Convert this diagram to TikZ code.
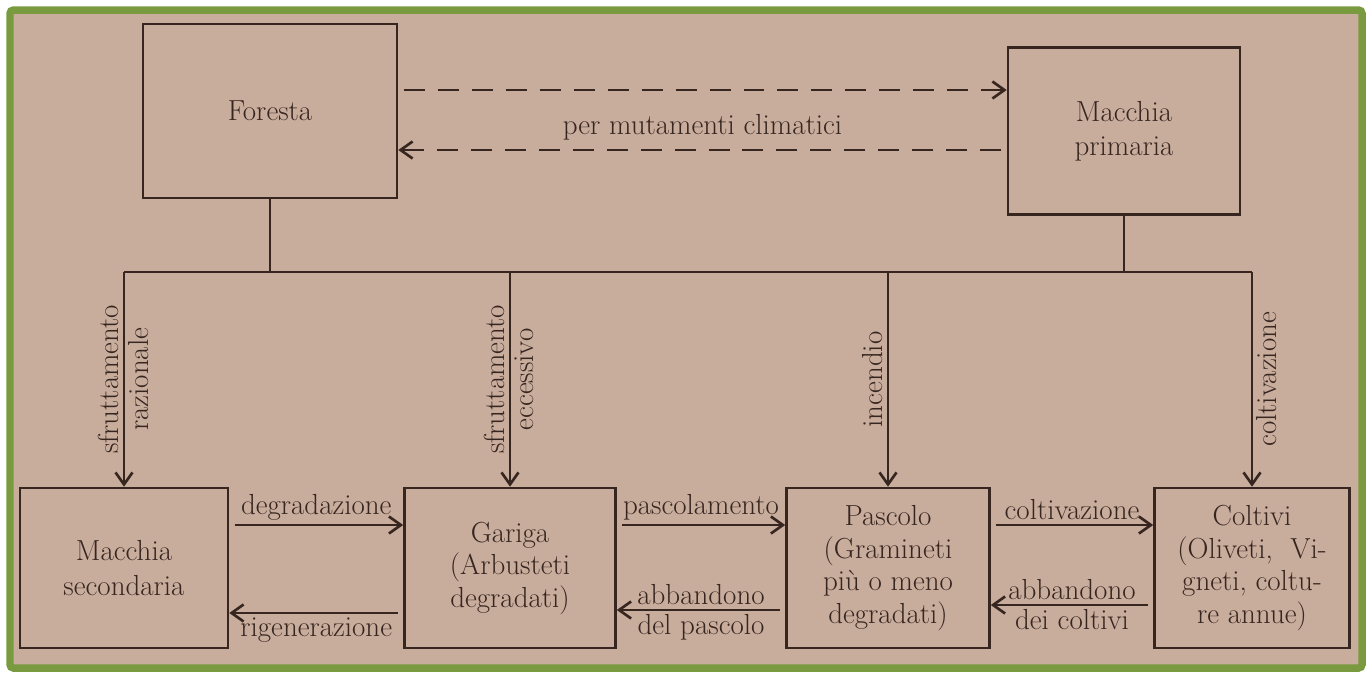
\documentclass[tikz,border=0pt]{standalone}
\usepackage{fontspec}
\usetikzlibrary{arrows.meta}
\definecolor{carta}{RGB}{200,172,156}
\definecolor{inchiostro}{RGB}{55,38,32}
\definecolor{cornice}{RGB}{122,154,63}
\tikzset{
  stadio/.style={draw=inchiostro, line width=1.5pt, align=center,
    minimum height=3.2cm, text=inchiostro, font=\fontsize{16.5}{18.5}\selectfont},
  linea/.style={draw=inchiostro, line width=1.5pt},
  freccia/.style={linea, shorten <=3pt, -{Straight Barb[length=2.4mm,width=3.4mm]}},
  tratteggio/.style={freccia, dash pattern=on 0.42cm off 0.26cm},
  etichetta/.style={text=inchiostro, font=\fontsize{16.5}{18}\selectfont, inner sep=2pt},
}
\begin{document}
\begin{tikzpicture}[x=0.02cm, y=-0.02cm]
\useasboundingbox (0,0) rectangle (1372,677);
\fill[white] (0,0) rectangle (1372,677);
\filldraw[fill=carta, draw=cornice, line width=0.15cm, rounded corners=2pt] (10,10) rectangle (1362,668);

% stadi
\node[stadio, minimum width=5.08cm, minimum height=3.48cm] (foresta) at (270,111) {Foresta};
\node[stadio, minimum width=4.64cm, minimum height=3.34cm, font=\fontsize{16.5}{19.5}\selectfont] (primaria) at (1124,131) {Macchia\\primaria};
\node[stadio, minimum width=4.16cm, font=\fontsize{16.5}{19.5}\selectfont] (secondaria) at (124,568) {Macchia\\secondaria};
\node[stadio, minimum width=4.22cm] (gariga) at (510,568) {Gariga\\(Arbusteti\\degradati)};
\node[stadio, minimum width=4.06cm] (pascolo) at (888,568) {Pascolo\\(Gramineti\\più o meno\\degradati)};
\node[stadio, minimum width=3.9cm] (coltivi) at (1252,568) {Coltivi\\(Oliveti,\ \ Vi-\\gneti, coltu-\\re annue)};

% mutamenti climatici
\draw[tratteggio] ([yshift=0.42cm]foresta.east) -- ([yshift=0.42cm]foresta.east -| primaria.west);
\draw[tratteggio] ([yshift=-0.78cm]foresta.east -| primaria.west)
  -- node[etichetta, above=3pt] {per mutamenti climatici} ([yshift=-0.78cm]foresta.east);

% linea di raccordo
\coordinate (bus) at (0,272);
\draw[linea] (foresta.south) -- (foresta.south |- bus);
\draw[linea] (primaria.south) -- (primaria.south |- bus);
\draw[linea] (secondaria.north |- bus) -- (coltivi.north |- bus);

\draw[freccia, shorten <=0pt] (secondaria.north |- bus) --
  node[etichetta, rotate=90, above] {sfruttamento}
  node[etichetta, rotate=90, below] {razionale} (secondaria.north);
\draw[freccia, shorten <=0pt] (gariga.north |- bus) --
  node[etichetta, rotate=90, above] {sfruttamento}
  node[etichetta, rotate=90, below] {eccessivo} (gariga.north);
\draw[freccia, shorten <=0pt] (pascolo.north |- bus) --
  node[etichetta, rotate=90, above] {incendio} (pascolo.north);
\draw[freccia, shorten <=0pt] (coltivi.north |- bus) --
  node[etichetta, rotate=90, below] {coltivazione} (coltivi.north);

% passaggi tra gli stadi
\draw[freccia] ([yshift=0.86cm]secondaria.east) --
  node[etichetta, above] {degradazione} ([yshift=0.86cm]secondaria.east -| gariga.west);
\draw[freccia] ([yshift=-0.9cm]secondaria.east -| gariga.west) --
  node[etichetta, below] {rigenerazione} ([yshift=-0.9cm]secondaria.east);
\draw[freccia] ([yshift=0.86cm]gariga.east) --
  node[etichetta, above] {pascolamento} ([yshift=0.86cm]gariga.east -| pascolo.west);
\draw[freccia] ([yshift=-0.84cm]gariga.east -| pascolo.west) --
  node[etichetta, above] {abbandono}
  node[etichetta, below] {del pascolo} ([yshift=-0.84cm]gariga.east);
\draw[freccia] ([yshift=0.86cm]pascolo.east) --
  node[etichetta, above] {coltivazione} ([yshift=0.86cm]pascolo.east -| coltivi.west);
\draw[freccia] ([yshift=-0.74cm]pascolo.east -| coltivi.west) --
  node[etichetta, above] {abbandono}
  node[etichetta, below] {dei coltivi} ([yshift=-0.74cm]pascolo.east);
\end{tikzpicture}
\end{document}
